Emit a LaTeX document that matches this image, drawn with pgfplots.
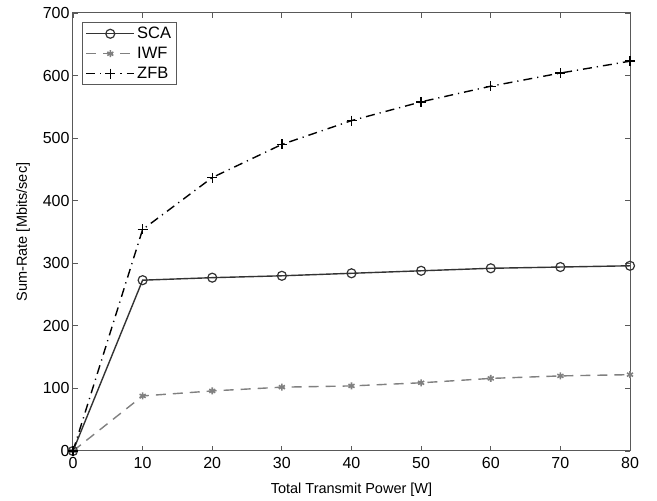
\documentclass[border=0pt]{standalone}
\usepackage{pgfplots}
\pgfplotsset{compat=1.18}
\usepackage{fontspec}
\setmainfont{Liberation Sans}
\usetikzlibrary{calc}
\definecolor{sca}{gray}{0.2}
\definecolor{iwf}{gray}{0.5}
\definecolor{axc}{gray}{0.35}
\begin{document}
\begin{tikzpicture}
\begin{axis}[
  scale only axis,
  width=557pt, height=438pt,
  xmin=0, xmax=80, ymin=0, ymax=700,
  xtick={0,10,...,80}, ytick={0,100,...,700},
  tick align=inside,
  major tick length=5pt,
  axis line style={axc, line width=1pt},
  every tick/.style={axc, line width=0.8pt},
  tick label style={font=\fontsize{16}{18}\selectfont},
  xticklabel style={yshift=-3pt},
  label style={font=\fontsize{14.5}{17}\selectfont},
  /pgf/number format/assume math mode=true,
  xlabel={Total Transmit Power [W]},
  ylabel={Sum-Rate [Mbits/sec]},
  xlabel style={yshift=-7pt},
  ylabel style={yshift=6pt},
  legend style={at={(rel axis cs:0.016,0.98)}, anchor=north west,
    font=\fontsize{16.5}{19}\selectfont, draw=axc, line width=1pt,
    inner sep=3pt, row sep=3pt},
  legend cell align=left,
  legend image code/.code={\draw[mark repeat=2,mark phase=2] plot coordinates {(0cm,0cm) (0.85cm,0cm) (1.7cm,0cm)};},
]
\coordinate (bl) at (rel axis cs:0,0);
\coordinate (tr) at (rel axis cs:1,1);
\addplot[sca, line width=1.4pt, mark=o, mark size=4.5pt, mark options={solid, line width=1.2pt}]
  coordinates {(0,0) (10,273) (20,277) (30,280) (40,284) (50,288) (60,292) (70,294) (80,296)};
\addlegendentry{SCA}
\addplot[iwf, line width=1.4pt, dash pattern=on 10pt off 7pt, mark=asterisk, mark size=3.5pt, mark options={solid, line width=1.6pt}]
  coordinates {(0,0) (10,88) (20,96) (30,102) (40,104) (50,109) (60,116) (70,120) (80,122)};
\addlegendentry{IWF}
\addplot[black, line width=1.4pt, dash pattern=on 9pt off 5pt on 1.2pt off 5pt, mark=+, mark size=5pt, mark options={solid, line width=1.4pt}]
  coordinates {(0,0) (10,354) (20,437) (30,490) (40,528) (50,558) (60,583) (70,604) (80,623)};
\addlegendentry{ZFB}
\end{axis}
\path ($(bl)+(-73pt,-50pt)$) rectangle ($(tr)+(27pt,13pt)$);
\end{tikzpicture}
\end{document}
